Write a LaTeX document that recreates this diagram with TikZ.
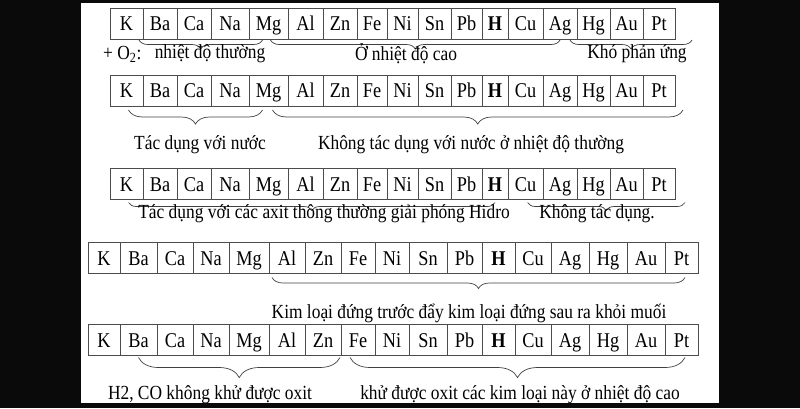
\documentclass[tikz,border=0pt]{standalone}
\usepackage{fontspec}
\setmainfont{Liberation Serif}[FakeStretch=0.87]
\usetikzlibrary{positioning,decorations.pathreplacing}

% cell widths of the two table layouts
\newcommand\narrowcells{Ba/34,Ca/34,Na/38,Mg/39,Al/35,Zn/34,Fe/30,Ni/31,Sn/33,Pb/31,\textbf{H}/26,Cu/35,Ag/34,Hg/33,Au/33,Pt/32}
\newcommand\widecells{Ba/37,Ca/36,Na/36,Mg/40,Al/36,Zn/36,Fe/34,Ni/34,Sn/38,Pb/35,\textbf{H}/33,Cu/36,Ag/38,Hg/38,Au/38,Pt/33}

\tikzset{
  cell/.style={draw=black!70, line width=0.8pt, minimum height=31pt, inner sep=0pt, outer sep=0pt,
    text height=16pt, text depth=2pt, font=\fontsize{21}{21}\selectfont},
  grp/.style={decorate, decoration={brace, mirror, amplitude=#1}, draw=black!75, line width=0.7pt},
  grp/.default=9pt,
  lbl/.style={font=\fontsize{20}{20}\selectfont, inner sep=0pt},
}

\begin{document}
\begin{tikzpicture}[x=1pt, y=-1pt]
\useasboundingbox (0,0) rectangle (800,408);

% the three narrow rows
\foreach \r/\y in {a/23.5, b/90.5, c/184} {
  \node[cell, minimum width=33pt, anchor=west] (\r1) at (110,\y) {K};
  \foreach \el/\w [count=\i from 2, remember=\i as \j (initially 1)] in \narrowcells
    \node[cell, minimum width=\w pt, right=0pt of \r\j] (\r\i) {\el};
}
% the two wide rows
\foreach \r/\y in {d/258, e/340} {
  \node[cell, minimum width=32pt, anchor=west] (\r1) at (88,\y) {K};
  \foreach \el/\w [count=\i from 2, remember=\i as \j (initially 1)] in \widecells
    \node[cell, minimum width=\w pt, right=0pt of \r\j] (\r\i) {\el};
}

% + O2
\draw[grp] ([xshift=-4pt,yshift=-1pt]a2.south west) -- ([xshift=-6pt,yshift=-1pt]a5.south);
\draw[grp] ([xshift=2pt,yshift=-1pt]a5.south) -- ([yshift=-1pt]a14.south);
\draw[grp] ([xshift=-7pt,yshift=-1pt]a14.south east) -- ([xshift=17pt,yshift=-1pt]a17.south east);
\node[lbl, anchor=west] (o2) at (103,54) {+ O\textsubscript{2}:};
\node[lbl] (o2cold) at (210,54) {nhiệt độ thường};
\node[lbl] (o2hot) at (406,54) {Ở nhiệt độ cao};
\node[lbl] (o2none) at (637,54) {Khó phản ứng};

% nuoc
\draw[grp=14pt] ([xshift=2pt,yshift=-4pt]b1.south) -- ([xshift=-6pt,yshift=-4pt]b5.south);
\draw[grp=14pt] ([xshift=4pt,yshift=-4pt]b5.south) -- ([xshift=8pt,yshift=-4pt]b17.south east);
\node[lbl] (h2oyes) at (200,145) {Tác dụng với nước};
\node[lbl] (h2ono) at (471,145) {Không tác dụng với nước ở nhiệt độ thường};

% axit
\draw[grp=8pt] ([xshift=2pt,yshift=-3pt]c1.south) -- ([yshift=-3pt]c12.south);
\draw[grp=8pt] ([xshift=2pt,yshift=-3pt]c13.south) -- ([xshift=10pt,yshift=-3pt]c17.south east);
\node[lbl] (acidyes) at (324,214) {Tác dụng với các axit thông thường giải phóng Hidro};
\node[lbl] (acidno) at (597,214) {Không tác dụng.};

% muoi
\draw[grp=11pt] ([xshift=3pt,yshift=-4pt]d6.south west) -- ([xshift=-13pt,yshift=-4pt]d17.south east);
\node[lbl] (salt) at (469,313) {Kim loại đứng trước đẩy kim loại đứng sau ra khỏi muối};

% oxit
\draw[grp=20pt] ([yshift=-2pt]e2.south) -- ([xshift=-1pt,yshift=-2pt]e7.south east);
\draw[grp=20pt] ([xshift=9pt,yshift=-2pt]e8.south west) -- ([xshift=-13pt,yshift=-2pt]e17.south east);
\node[lbl] (oxno) at (210,395) {H2, CO không khử được oxit};
\node[lbl] (oxyes) at (520,395) {khử được oxit các kim loại này ở nhiệt độ cao};

% black margins
\fill[black!96] (0,0) rectangle (81,408);
\fill[black!96] (719,0) rectangle (800,408);
\fill[black!96] (0,0) rectangle (800,3);
\fill[black!96] (0,403) rectangle (800,408);
\end{tikzpicture}
\end{document}
